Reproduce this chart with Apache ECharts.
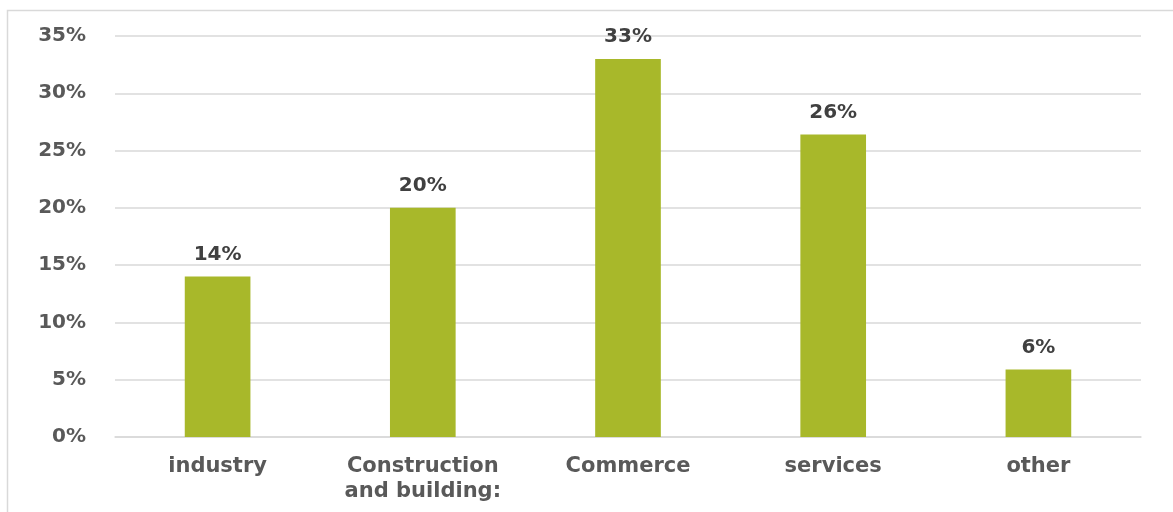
<!DOCTYPE html>
<html>
<head>
<meta charset="utf-8">
<script src="https://cdn.jsdelivr.net/npm/echarts@6/dist/echarts.min.js"></script>
<style>
html,body{margin:0;padding:0;background:#fff;}
#c{width:1173px;height:512px;}
</style>
</head>
<body>
<div id="c"></div>
<script>
const categories = ['industry', 'Construction\nand building:', 'Commerce', 'services', 'other'];
const values = [14, 20, 33, 26.4, 5.9];
const yTicks = { min: 0, max: 35, interval: 5 };

const chart = echarts.init(document.getElementById('c'));
chart.setOption({
  animation: false,
  backgroundColor: '#fff',
  graphic: [{
    type: 'rect',
    shape: { x: 7.5, y: 10.5, width: 1400, height: 800 },
    style: { fill: 'none', stroke: '#d9d9d9', lineWidth: 1.5 },
    silent: true
  }],
  grid: { left: 115, right: 32, top: 36, bottom: 75, containLabel: false },
  xAxis: {
    type: 'category',
    data: categories,
    axisLine: { show: true, lineStyle: { color: '#d9d9d9', width: 1.5 } },
    axisTick: { show: false },
    axisLabel: {
      color: '#595959',
      fontFamily: 'DejaVu Sans',
      fontWeight: 'bold',
      fontSize: 21,
      margin: 17,
      lineHeight: 25,
      interval: 0
    }
  },
  yAxis: {
    type: 'value',
    min: yTicks.min,
    max: yTicks.max,
    interval: yTicks.interval,
    axisLine: { show: false },
    axisTick: { show: false },
    splitLine: { lineStyle: { color: '#d9d9d9', width: 1.5 } },
    axisLabel: {
      color: '#595959',
      fontFamily: 'DejaVu Sans',
      fontWeight: 'bold',
      fontSize: 20,
      margin: 29,
      formatter: v => v + '%'
    }
  },
  series: [{
    type: 'bar',
    data: values,
    barWidth: '32%',
    itemStyle: { color: '#a8b82a' },
    label: {
      show: true,
      position: 'top',
      distance: 12,
      color: '#404040',
      fontFamily: 'DejaVu Sans',
      fontWeight: 'bold',
      fontSize: 20,
      formatter: p => Math.round(p.value) + '%'
    }
  }]
});
</script>
</body>
</html>
